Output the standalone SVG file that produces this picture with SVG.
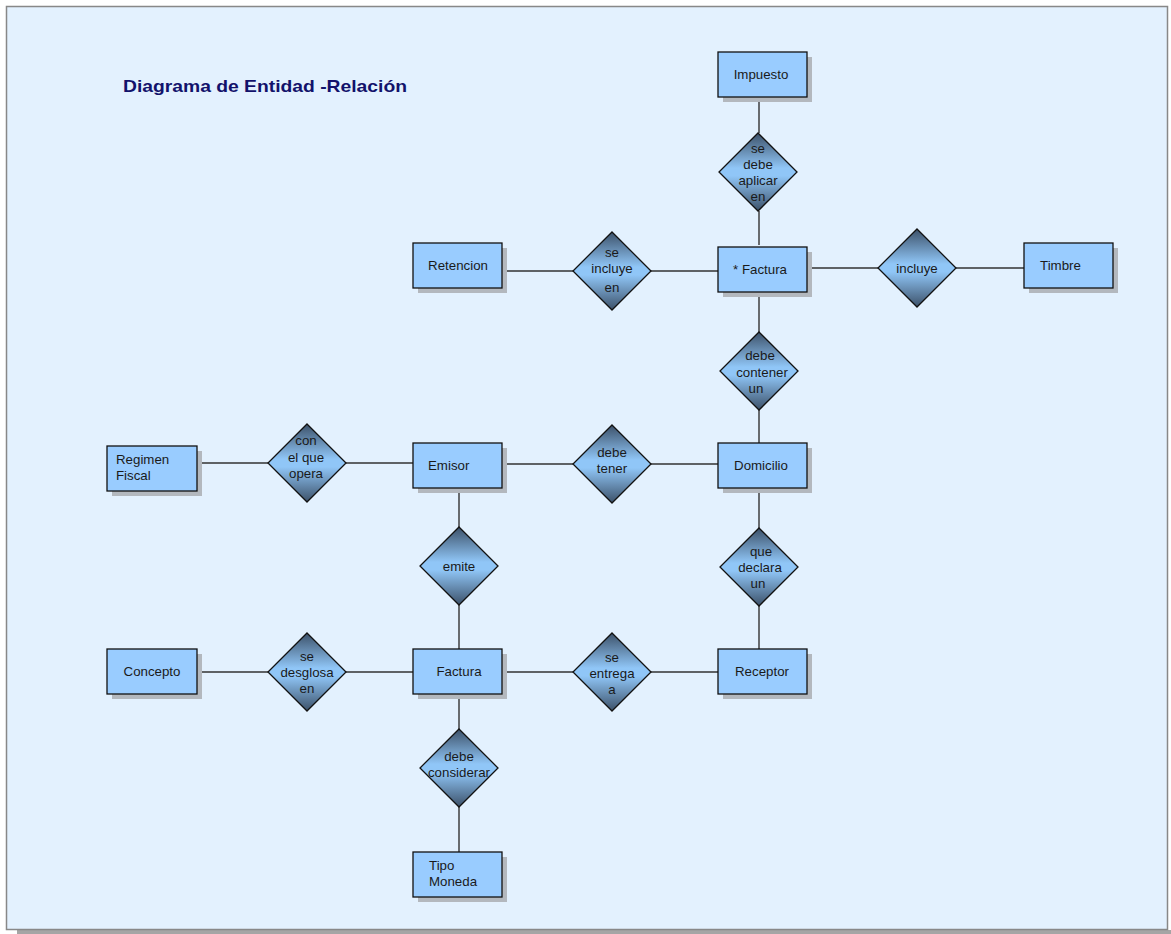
<svg xmlns="http://www.w3.org/2000/svg" width="1171" height="934" viewBox="0 0 1171 934">
<defs>
<linearGradient id="dg" x1="0" y1="0" x2="0" y2="1">
<stop offset="0" stop-color="#3c5169"/>
<stop offset="0.45" stop-color="#90c6f7"/>
<stop offset="0.55" stop-color="#90c6f7"/>
<stop offset="1" stop-color="#3c5169"/>
</linearGradient>
<style>
.ent{fill:#99ccff;stroke:#111;stroke-width:1.3}
.sh{fill:#b3b8be}
.dia{fill:url(#dg);stroke:#111;stroke-width:1.3}
.t{font-family:"Liberation Sans",Arial,sans-serif;font-size:13.3px;fill:#1a1a1a}
.c{text-anchor:middle}
.ln{stroke:#333;stroke-width:1.4;fill:none}
</style>
</defs>
<rect x="17" y="930" width="1154" height="4" fill="#a5a5a5"/>
<rect x="6.5" y="6.5" width="1161" height="923" fill="#e3f1fe" stroke="#888" stroke-width="1.5"/>
<text x="123" y="92" font-family="Liberation Sans,Arial,sans-serif" font-weight="bold" font-size="17" fill="#12126b" textLength="284" lengthAdjust="spacingAndGlyphs">Diagrama de Entidad -Relación</text>

<g id="connectors">
<path class="ln" d="M759 100V133M759 211V245"/>
<path class="ln" d="M505 271H573M651 271H718"/>
<path class="ln" d="M810 268H879M956 268H1024"/>
<path class="ln" d="M759 295V332M759 410V443"/>
<path class="ln" d="M759 491V528M759 606V649"/>
<path class="ln" d="M505 464H573M651 464H718"/>
<path class="ln" d="M200 463H268M346 463H413"/>
<path class="ln" d="M459 491V527M459 605V649"/>
<path class="ln" d="M200 672H268M346 672H413"/>
<path class="ln" d="M505 672H573M651 672H718"/>
<path class="ln" d="M459 697V729M459 807V852"/>
</g>

<g id="impuesto"><rect class="sh" x="723" y="57" width="89" height="45"/><rect class="ent" x="718" y="52" width="89" height="45"/><text class="t c" x="761" y="79">Impuesto</text></g>
<g id="factura-top"><rect class="sh" x="723" y="252" width="89" height="45"/><rect class="ent" x="718" y="247" width="89" height="45"/><text class="t c" x="760" y="274">* Factura</text></g>
<g id="retencion"><rect class="sh" x="418" y="248" width="89" height="45"/><rect class="ent" x="413" y="243" width="89" height="45"/><text class="t c" x="458" y="270">Retencion</text></g>
<g id="timbre"><rect class="sh" x="1029" y="248" width="89" height="45"/><rect class="ent" x="1024" y="243" width="89" height="45"/><text class="t" x="1040" y="270">Timbre</text></g>
<g id="domicilio"><rect class="sh" x="723" y="448" width="89" height="45"/><rect class="ent" x="718" y="443" width="89" height="45"/><text class="t c" x="761" y="470">Domicilio</text></g>
<g id="emisor"><rect class="sh" x="418" y="448" width="89" height="45"/><rect class="ent" x="413" y="443" width="89" height="45"/><text class="t" x="428" y="470">Emisor</text></g>
<g id="regimen"><rect class="sh" x="112" y="451" width="90" height="45"/><rect class="ent" x="107" y="446" width="90" height="45"/><text class="t" x="116" y="464">Regimen</text><text class="t" x="116" y="480">Fiscal</text></g>
<g id="factura"><rect class="sh" x="418" y="654" width="89" height="45"/><rect class="ent" x="413" y="649" width="89" height="45"/><text class="t c" x="459" y="676">Factura</text></g>
<g id="receptor"><rect class="sh" x="723" y="654" width="89" height="45"/><rect class="ent" x="718" y="649" width="89" height="45"/><text class="t c" x="762" y="676">Receptor</text></g>
<g id="concepto"><rect class="sh" x="112" y="654" width="90" height="45"/><rect class="ent" x="107" y="649" width="90" height="45"/><text class="t c" x="152" y="676">Concepto</text></g>
<g id="tipomoneda"><rect class="sh" x="418" y="857" width="89" height="45"/><rect class="ent" x="413" y="852" width="89" height="45"/><text class="t" x="429" y="870">Tipo</text><text class="t" x="429" y="886">Moneda</text></g>

<g id="r-aplicar"><path class="dia" d="M758 133L797 172L758 211L719 172Z"/><text class="t c" x="758" y="153">se</text><text class="t c" x="758" y="169">debe</text><text class="t c" x="758" y="185">aplicar</text><text class="t c" x="758" y="201">en</text></g>
<g id="r-incluye-en"><path class="dia" d="M612 232L651 271L612 310L573 271Z"/><text class="t c" x="612" y="257">se</text><text class="t c" x="612" y="273">incluye</text><text class="t c" x="612" y="292">en</text></g>
<g id="r-incluye"><path class="dia" d="M917 229L956 268L917 307L878 268Z"/><text class="t c" x="917" y="273">incluye</text></g>
<g id="r-contener"><path class="dia" d="M759 332L798 371L759 410L720 371Z"/><text class="t c" x="760" y="360">debe</text><text class="t c" x="762" y="377">contener</text><text class="t c" x="756" y="393">un</text></g>
<g id="r-opera"><path class="dia" d="M307 424L346 463L307 502L268 463Z"/><text class="t c" x="306" y="445">con</text><text class="t c" x="306" y="462">el que</text><text class="t c" x="306" y="478">opera</text></g>
<g id="r-tener"><path class="dia" d="M612 425L651 464L612 503L573 464Z"/><text class="t c" x="612" y="457">debe</text><text class="t c" x="612" y="473">tener</text></g>
<g id="r-emite"><path class="dia" d="M459 527L498 566L459 605L420 566Z"/><text class="t c" x="459" y="571">emite</text></g>
<g id="r-declara"><path class="dia" d="M759 528L798 567L759 606L720 567Z"/><text class="t c" x="761" y="556">que</text><text class="t c" x="760" y="572">declara</text><text class="t c" x="758" y="588">un</text></g>
<g id="r-desglosa"><path class="dia" d="M307 633L346 672L307 711L268 672Z"/><text class="t c" x="307" y="661">se</text><text class="t c" x="307" y="677">desglosa</text><text class="t c" x="307" y="693">en</text></g>
<g id="r-entrega"><path class="dia" d="M612 633L651 672L612 711L573 672Z"/><text class="t c" x="612" y="662">se</text><text class="t c" x="612" y="678">entrega</text><text class="t c" x="612" y="694">a</text></g>
<g id="r-considerar"><path class="dia" d="M459 729L498 768L459 807L420 768Z"/><text class="t c" x="459" y="761">debe</text><text class="t c" x="459" y="777">considerar</text></g>
</svg>
